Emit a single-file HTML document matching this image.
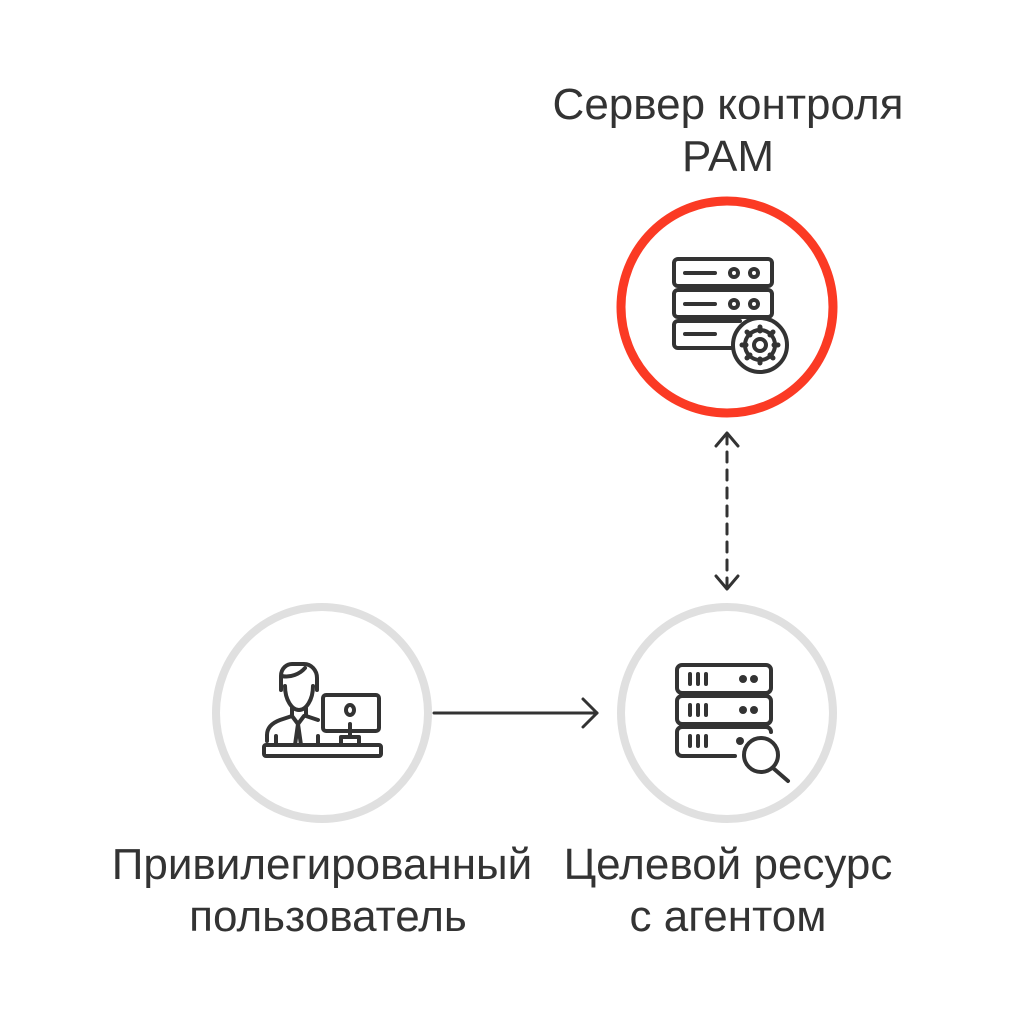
<!DOCTYPE html>
<html><head><meta charset="utf-8"><style>
html,body{margin:0;padding:0;background:#fff;}
svg{display:block;}
text{font-family:"Liberation Sans","DejaVu Sans",sans-serif;fill:#333;font-size:44px;}
</style></head><body>
<svg width="1011" height="1024" viewBox="0 0 1011 1024" xmlns="http://www.w3.org/2000/svg">
<text x="728" y="119" text-anchor="middle">Сервер контроля</text>
<text x="728" y="171" text-anchor="middle">PAM</text>
<text x="322" y="879" text-anchor="middle">Привилегированный</text>
<text x="328" y="931" text-anchor="middle">пользователь</text>
<text x="728" y="879" text-anchor="middle">Целевой ресурс</text>
<text x="728" y="931" text-anchor="middle">с агентом</text>

<circle cx="727" cy="307" r="106" fill="none" stroke="#fb3a24" stroke-width="9"/>
<circle cx="322" cy="713" r="106" fill="none" stroke="#e0e0e0" stroke-width="8"/>
<circle cx="727" cy="713" r="106" fill="none" stroke="#e0e0e0" stroke-width="8"/>

<g stroke="#333" stroke-width="3" fill="none" stroke-linecap="round" stroke-linejoin="round">
<line x1="727" y1="434" x2="727" y2="588" stroke-dasharray="10 8"/>
<polyline points="716,446 727,433 738,446"/>
<polyline points="716,576 727,589 738,576"/>
<line x1="434" y1="713" x2="597" y2="713"/>
<polyline points="583,699 597,713 583,727"/>

<g stroke-width="4">
<rect x="674" y="259" width="98" height="27" rx="4"/>
<rect x="674" y="290" width="98" height="27" rx="4"/>
<path d="M740,348 H678 a4,4 0 0 1 -4,-4 V325 a4,4 0 0 1 4,-4 H740"/>
<line x1="685" y1="273" x2="715" y2="273"/><line x1="685" y1="304" x2="715" y2="304"/><line x1="685" y1="334" x2="715" y2="334"/>
<circle cx="734" cy="273" r="4"/><circle cx="754" cy="273" r="4"/>
<circle cx="734" cy="304" r="4"/><circle cx="754" cy="304" r="4"/>
<circle cx="760" cy="345" r="27" fill="#fff"/>
<circle cx="760" cy="345" r="15"/>
<circle cx="760" cy="345" r="6"/>
</g>
<g stroke-width="5">
<line x1="760" y1="327" x2="760" y2="331"/><line x1="760" y1="359" x2="760" y2="363"/>
<line x1="742" y1="345" x2="746" y2="345"/><line x1="774" y1="345" x2="778" y2="345"/>
<line x1="747" y1="332" x2="750" y2="335"/><line x1="770" y1="355" x2="773" y2="358"/>
<line x1="773" y1="332" x2="770" y2="335"/><line x1="747" y1="358" x2="750" y2="355"/>
</g>

<g stroke-width="4">
<rect x="677" y="665" width="94" height="28" rx="5"/>
<rect x="677" y="696" width="94" height="28" rx="5"/>
<path d="M735,756 H682 a5,5 0 0 1 -5,-5 V732 a5,5 0 0 1 5,-5 H766 a5,5 0 0 1 5,5"/>
<line x1="690" y1="674" x2="690" y2="684"/><line x1="698" y1="674" x2="698" y2="684"/><line x1="706" y1="674" x2="706" y2="684"/>
<line x1="690" y1="705" x2="690" y2="715"/><line x1="698" y1="705" x2="698" y2="715"/><line x1="706" y1="705" x2="706" y2="715"/>
<line x1="690" y1="736" x2="690" y2="746"/><line x1="698" y1="736" x2="698" y2="746"/><line x1="706" y1="736" x2="706" y2="746"/>
<circle cx="761" cy="755" r="17" fill="#fff"/>
<line x1="773" y1="768" x2="788" y2="781"/>
</g>
<g fill="#333" stroke="none">
<circle cx="743" cy="679" r="4"/><circle cx="754" cy="679" r="4"/>
<circle cx="743" cy="710" r="4"/><circle cx="754" cy="710" r="4"/>
<circle cx="740" cy="741" r="4"/>
</g>

<g stroke-width="4">
<rect x="264" y="745" width="117" height="11" rx="2"/>
<rect x="323" y="695" width="56" height="36" rx="3"/>
<ellipse cx="350" cy="710" rx="4" ry="5"/>
<line x1="350" y1="724" x2="350" y2="737"/>
<rect x="341" y="737" width="18" height="8"/>
<path d="M285,686 C285,700 292,710 299,710 C306,710 313,700 313,686"/>
<path d="M281,690 V676 C281,668 287,664 292,664 H304 C311,664 317,670 317,678 V690"/>
<path d="M282,676 C290,678 300,674 305,668"/>
<path d="M292,708 V716 L280,720 C272,723 267,728 267,735 V741"/>
<path d="M306,708 V716 L318,720"/>
<path d="M292,716 L298,724 L304,716"/>
<line x1="298" y1="724" x2="295" y2="745"/><line x1="298" y1="724" x2="301" y2="745"/>
<line x1="276" y1="736" x2="276" y2="745"/><line x1="318" y1="736" x2="318" y2="745"/>
</g>
</g>
</svg>
</body></html>
